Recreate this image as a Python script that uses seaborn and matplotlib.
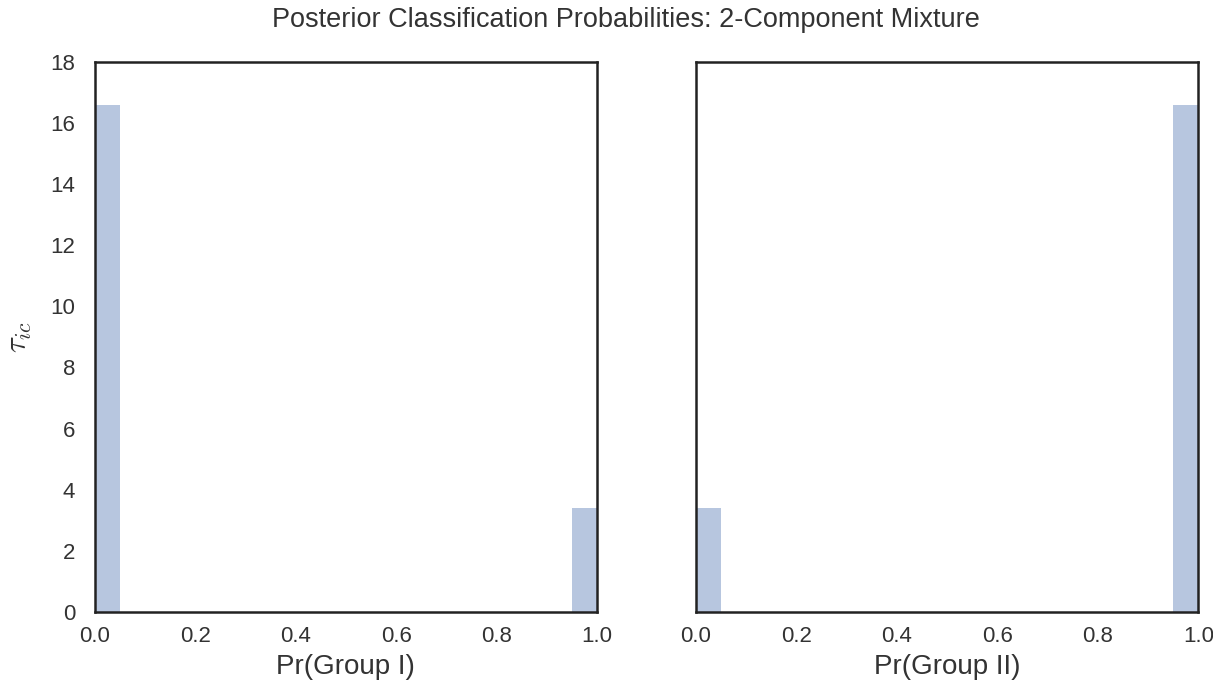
import numpy as np
import pandas as pd
import matplotlib
matplotlib.use("Agg")
import matplotlib.pyplot as plt
import seaborn as sns

# posterior probabilities (bin centers) and the share of observations in each
group1_pr = [0.025, 0.975]
group2_pr = [0.025, 0.975]
group1_share = [0.83, 0.17]
group2_share = [0.17, 0.83]
n_bins = 20

df1 = pd.DataFrame({"pr": group1_pr, "w": group1_share})
df2 = pd.DataFrame({"pr": group2_pr, "w": group2_share})

sns.set_style("white")
plt.rcParams["axes.edgecolor"] = "#222222"
plt.rcParams["axes.linewidth"] = 1.8
plt.rcParams["font.family"] = ["Liberation Sans", "DejaVu Sans"]
plt.rcParams["mathtext.fontset"] = "cm"

fig, axes = plt.subplots(1, 2, figsize=(12.13, 6.89), dpi=100, sharey=True)
bar_color = "#4c72b0"

for ax, d, lab in zip(axes, [df1, df2], ["Pr(Group I)", "Pr(Group II)"]):
    sns.histplot(data=d, x="pr", weights="w", bins=n_bins, binrange=(0, 1),
                 stat="density", color=bar_color, alpha=0.4,
                 edgecolor="none", linewidth=0, ax=ax)
    ax.set_xlim(0, 1)
    ax.set_ylim(0, 18)
    ax.set_xlabel(lab, fontsize=20, color="#333333", labelpad=5)
    ax.set_ylabel("")
    ax.tick_params(axis="x", labelsize=16, colors="#333333", length=0, pad=10)
    ax.tick_params(axis="y", labelsize=16, colors="#333333", length=0, pad=14)

axes[0].set_ylabel(r"$\tau_{ic}$", fontsize=22, color="#333333", labelpad=12)
axes[1].tick_params(labelleft=False)

fig.suptitle("Posterior Classification Probabilities: 2-Component Mixture",
             fontsize=19.5, color="#333333", x=0.516, y=0.99)
fig.subplots_adjust(left=0.078, right=0.988, top=0.91, bottom=0.112, wspace=0.197)
fig.savefig("out.png", dpi=100)
